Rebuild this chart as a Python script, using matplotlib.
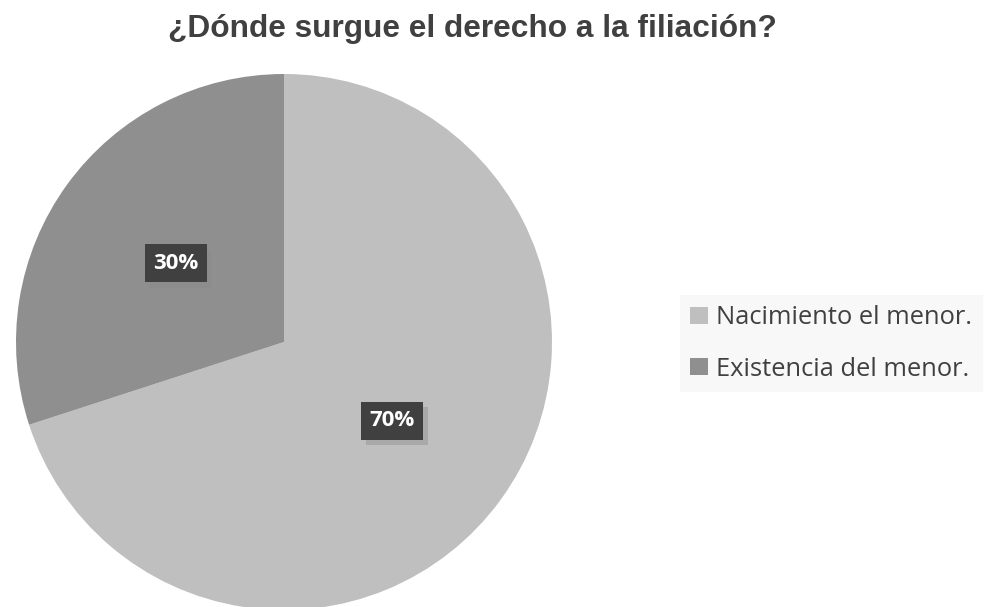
import numpy as np
import matplotlib.pyplot as plt
import matplotlib.patheffects as pe

titulo = "¿Dónde surgue el derecho a la filiación?"
categorias = ["Nacimiento el menor.", "Existencia del menor."]
valores = [70, 30]
colores = ["#bfbfbf", "#8f8f8f"]

fig = plt.figure(figsize=(9.85, 6.07), dpi=100)
ax = fig.add_axes([0, 0, 1, 1])

wedges, texts, autotexts = ax.pie(valores, colors=colores, startangle=90, counterclock=False,
                                  center=(284, 265), radius=268, autopct="%1.0f%%",
                                  pctdistance=0.5, frame=True)
ax.set_xlim(0, 985)
ax.set_ylim(0, 607)
ax.axis("off")

for t in autotexts:
    t.set_color("white")
    t.set_fontweight("bold")
    t.set_fontsize(16)
    t.set_family("Open Sans")
    t.set_bbox(dict(boxstyle="square,pad=0.38", facecolor="#404040", edgecolor="none"))
    t.get_bbox_patch().set_path_effects([pe.withSimplePatchShadow(offset=(3, -4), shadow_rgbFace="#888888", alpha=0.4)])

fig.text(0.48, 0.953, titulo, ha="center", va="center", fontsize=22.8, fontweight="bold",
         color="#404040", family="Liberation Sans")

leg = ax.legend(wedges, categorias, loc="center left", bbox_to_anchor=(0.69, 0.434),
                frameon=True, facecolor="#f8f8f8", edgecolor="none", framealpha=1,
                fancybox=False, prop={"family": "Open Sans", "size": 18.4}, labelcolor="#404040",
                handlelength=0.67, handleheight=0.67, handletextpad=0.35, labelspacing=1.03,
                borderpad=0.42, borderaxespad=0)

fig.savefig("out.png", dpi=100)
